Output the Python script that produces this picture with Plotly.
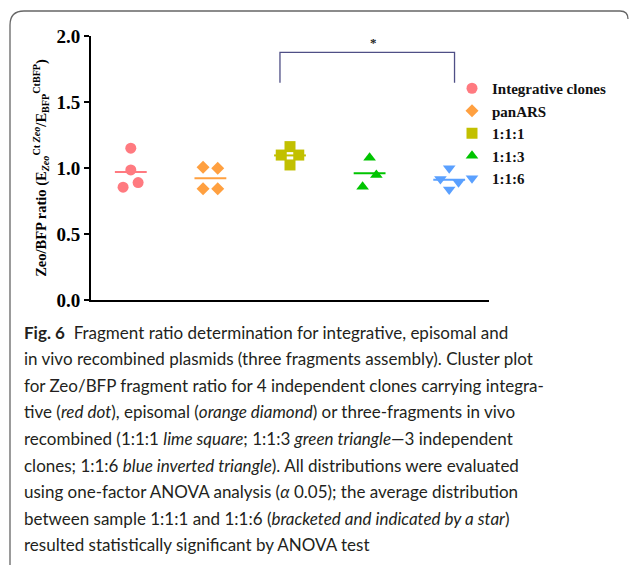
import numpy as np
import plotly.graph_objects as go

# ---- data ----
groups = ["Integrative clones", "panARS", "1:1:1", "1:1:3", "1:1:6"]
integrative = [1.15, 0.985, 0.855, 0.89]
panars = [1.005, 0.998, 0.842, 0.842]
r111 = [1.162, 1.098, 1.098, 1.023]
r113 = [1.078, 0.947, 0.858]
r116 = [0.998, 0.917, 0.892, 0.838]
values = [integrative, panars, r111, r113, r116]

# horizontal scatter offsets of the individual clones (cluster plot layout)
x_offsets = [
    [0.0, 0.0, -0.097, 0.092],
    [-0.092, 0.092, -0.092, 0.092],
    [0.0, -0.11, 0.11, 0.0],
    [0.0, 0.085, -0.088],
    [0.0, -0.11, 0.117, 0.0],
]

y_ticks = [0.0, 0.5, 1.0, 1.5, 2.0]
tick_labels = ["0.0", "0.5", "1.0", "1.5", "2.0"]

caption_lines = [
    "<b>Fig. 6</b>  Fragment ratio determination for integrative, episomal and",
    "in vivo recombined plasmids (three fragments assembly). Cluster plot",
    "for Zeo/BFP fragment ratio for 4 independent clones carrying integra-",
    "tive (<i>red dot</i>), episomal (<i>orange diamond</i>) or three-fragments in vivo",
    "recombined (1:1:1 <i>lime square</i>; 1:1:3 <i>green triangle</i>—3 independent",
    "clones; 1:1:6 <i>blue inverted triangle</i>). All distributions were evaluated",
    "using one-factor ANOVA analysis (<i>α</i> 0.05); the average distribution",
    "between sample 1:1:1 and 1:1:6 (<i>bracketed and indicated by a star</i>)",
    "resulted statistically significant by ANOVA test",
]

# ---- styles ----
colors = ["#FF7A80", "#FFA040", "#C2C000", "#00C400", "#5AA0FF"]
symbols = ["circle", "diamond", "square", "triangle-up", "triangle-down"]
sizes = [11, 10, 11, 11, 11]

PL, PT, PW, PH = 91, 36, 398, 264


def px_x(p):
    return (p - PL) / PW


def px_y(p):
    return (PT + PH - p) / PH


fig = go.Figure()

for i, (name, vals) in enumerate(zip(groups, values)):
    xs = [i + o for o in x_offsets[i]]
    m = float(np.mean(vals))
    # mean line
    fig.add_trace(go.Scatter(
        x=[i - 0.2, i + 0.2], y=[m, m], mode="lines",
        line=dict(color=colors[i], width=2), showlegend=False, hoverinfo="skip"))
    fig.add_trace(go.Scatter(
        x=xs, y=vals, mode="markers", name="<b>" + name + "</b>",
        marker=dict(color=colors[i], symbol=symbols[i], size=sizes[i], line=dict(width=0))))

# significance bracket between 1:1:1 and 1:1:6
bx = [2 - 0.126, 2 - 0.126, 4 + 0.067, 4 + 0.067]
by = [1.646, 1.876, 1.876, 1.646]
fig.add_trace(go.Scatter(x=bx, y=by, mode="lines", line=dict(color="#4F4F86", width=1.3),
                         showlegend=False, hoverinfo="skip"))
fig.add_annotation(x=3.05, y=1.876, text="<b>*</b>", showarrow=False, yanchor="bottom",
                   font=dict(family="Liberation Serif", size=13, color="#222"), yshift=0)

# caption, one annotation per line for the original line spacing
for k, line in enumerate(caption_lines):
    fig.add_annotation(xref="paper", yref="paper", x=px_x(22), y=px_y(332 + k * 26.6),
                       xanchor="left", yanchor="middle", align="left", showarrow=False,
                       text=line, font=dict(family="Lato", size=17, color="#231F20"))

# frame box
fig.add_shape(type="path", xref="paper", yref="paper",
              path="M {x0},{y1} L {x0},{y3} Q {x0},{y2} {x4},{y2} L {x5},{y2} Q {x6},{y2} {x6},{y7}".format(
                  x0=px_x(10), y1=px_y(600), y3=px_y(25),
                  y2=px_y(11), x4=px_x(24), x5=px_x(620),
                  x6=px_x(628), y7=px_y(19)),
              line=dict(color="#666", width=1.3))

fig.update_layout(
    width=629, height=565,
    margin=dict(l=PL, r=629 - PL - PW, t=PT, b=565 - PT - PH),
    paper_bgcolor="white", plot_bgcolor="white",
    showlegend=True,
    legend=dict(x=px_x(452), y=px_y(72), xanchor="left", yanchor="top",
                font=dict(family="Liberation Serif", size=15, color="#111"),
                bgcolor="rgba(0,0,0,0)", itemsizing="trace", tracegroupgap=0),
    xaxis=dict(range=[-0.5, 4.5], showticklabels=False, ticks="", showgrid=False,
               zeroline=False, showline=True, linecolor="black", linewidth=2),
    yaxis=dict(range=[0, 2.0], tickvals=y_ticks, ticktext=["<b>" + t + "</b>" for t in tick_labels],
               ticks="outside", ticklen=5, tickwidth=1.5, tickcolor="black", showgrid=False,
               zeroline=False, showline=True, linecolor="black", linewidth=2,
               tickfont=dict(family="Liberation Serif", size=19, color="black"),
               title=dict(text="<b>Zeo/BFP ratio (E<sub><i>Zeo</i></sub><sup>Ct <i>Zeo</i></sup>/E<sub>BFP</sub><sup>CtBFP</sup>)</b>",
                          font=dict(family="Liberation Serif", size=14.5, color="black"),
                          standoff=6)),
)

fig.write_html("out.html")
